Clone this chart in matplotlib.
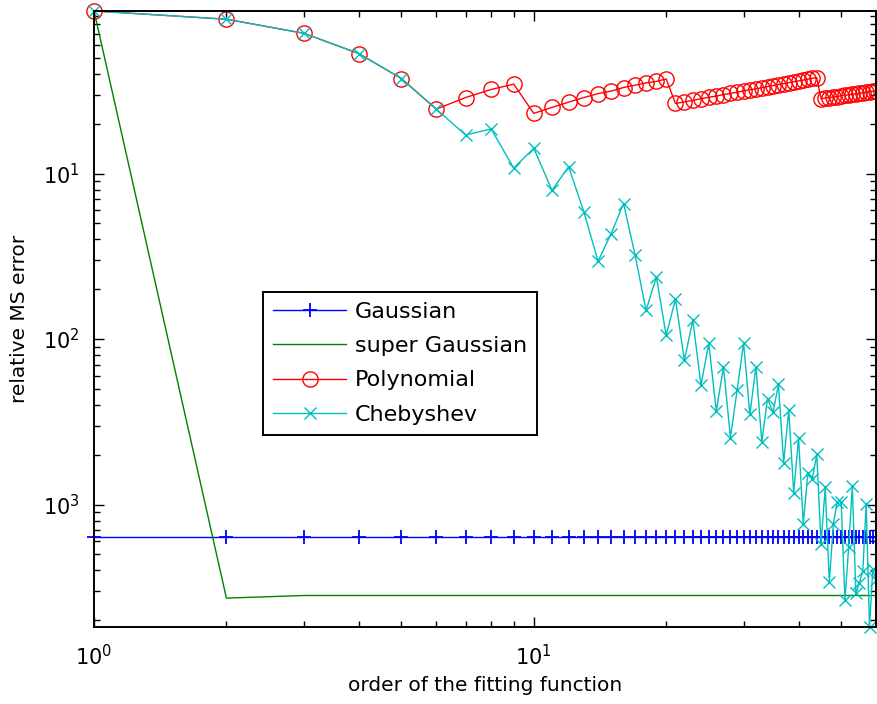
import matplotlib
matplotlib.use("Agg")
import matplotlib.pyplot as plt
from matplotlib.ticker import FixedLocator, FixedFormatter, NullFormatter
import numpy as np

# order of the fitting function
order = np.arange(1, 61)

gaussian = [6.37e-4] * 60

super_gaussian = [0.960, 2.72e-4] + [2.82e-4] * 58

polynomial = [0.960, 0.856, 0.704, 0.531, 0.375, 0.245, 0.288, 0.322, 0.347, 0.231,
              0.251, 0.270, 0.288, 0.304, 0.315, 0.331, 0.342, 0.353, 0.360, 0.373,
              0.265, 0.271, 0.277, 0.283, 0.289, 0.294, 0.300, 0.305, 0.310, 0.316,
              0.321, 0.325, 0.330, 0.335, 0.340, 0.345, 0.349, 0.354, 0.359, 0.363,
              0.367, 0.372, 0.376, 0.380, 0.283, 0.286, 0.288, 0.290, 0.292, 0.295,
              0.297, 0.299, 0.301, 0.303, 0.305, 0.308, 0.310, 0.312, 0.314, 0.316]

chebyshev = [0.960, 0.856, 0.704, 0.531, 0.375, 0.245, 0.171, 0.186, 0.108, 0.142,
             0.0792, 0.110, 0.0586, 0.0295, 0.0434, 0.0659, 0.0321, 0.0149, 0.0237, 0.01055,
             0.01738, 0.00745, 0.0130, 0.00526, 0.00940, 0.00368, 0.00678, 0.00254, 0.00491, 0.00946,
             0.00350, 0.00678, 0.00239, 0.00436, 0.00360, 0.00533, 0.00179, 0.00372, 0.00118, 0.00254,
             7.67e-4, 1.54e-3, 1.43e-3, 2.01e-3, 5.81e-4, 1.27e-3, 3.40e-4, 7.67e-4, 1.04e-3, 1.04e-3,
             2.64e-4, 5.50e-4, 1.29e-3, 2.90e-4, 3.36e-4, 3.97e-4, 1.005e-3, 1.82e-4, 4.05e-4, 3.49e-4]

labels = ["Gaussian", "super Gaussian", "Polynomial", "Chebyshev"]

# y tick labels as printed in the original (minus sign lost)
ytick_vals = [1e-1, 1e-2, 1e-3]
ytick_text = ["$10^{1}$", "$10^{2}$", "$10^{3}$"]

plt.rcParams["font.family"] = "DejaVu Sans"

fig = plt.figure(figsize=(8.78, 7.04), dpi=100)
ax = fig.add_axes([0.1071, 0.1094, 0.8906, 0.875])

ax.plot(order, gaussian, color="#0000ff", marker="+", markersize=10,
        markeredgewidth=1.3, linewidth=1.0, label=labels[0], clip_on=False)
ax.plot(order, super_gaussian, color="#008000", linewidth=1.0, label=labels[1])
ax.plot(order, polynomial, color="#ff0000", marker="o", markersize=11,
        markerfacecolor="none", markeredgewidth=1.0, linewidth=1.0,
        label=labels[2], clip_on=False)
ax.plot(order, chebyshev, color="#00bfbf", marker="x", markersize=8,
        markeredgewidth=1.0, linewidth=1.0, label=labels[3], clip_on=False)

ax.set_xscale("log")
ax.set_yscale("log")
ax.set_xlim(1, 60)
ax.set_ylim(min(chebyshev), max(chebyshev))

ax.yaxis.set_major_locator(FixedLocator(ytick_vals))
ax.yaxis.set_major_formatter(FixedFormatter(ytick_text))
ax.xaxis.set_minor_formatter(NullFormatter())
ax.yaxis.set_minor_formatter(NullFormatter())

ax.tick_params(which="both", direction="in", top=True, right=True, width=1.0,
               labelsize=15)
ax.tick_params(axis="x", pad=12)
ax.tick_params(axis="y", pad=10)
ax.tick_params(which="major", length=7.5)
ax.tick_params(which="minor", length=4.5)
for s in ax.spines.values():
    s.set_linewidth(1.4)

ax.set_xlabel("order of the fitting function", fontsize=14.5, labelpad=5)
ax.set_ylabel("relative MS error", fontsize=14.5, labelpad=10)

leg = ax.legend(loc="upper left", bbox_to_anchor=(0.216, 0.544), fontsize=16,
                fancybox=False, edgecolor="black", framealpha=1,
                handlelength=3.3, handletextpad=0.4, labelspacing=0.64,
                borderpad=0.45, borderaxespad=0)
leg.get_frame().set_linewidth(1.4)

fig.savefig("out.png", dpi=100)
